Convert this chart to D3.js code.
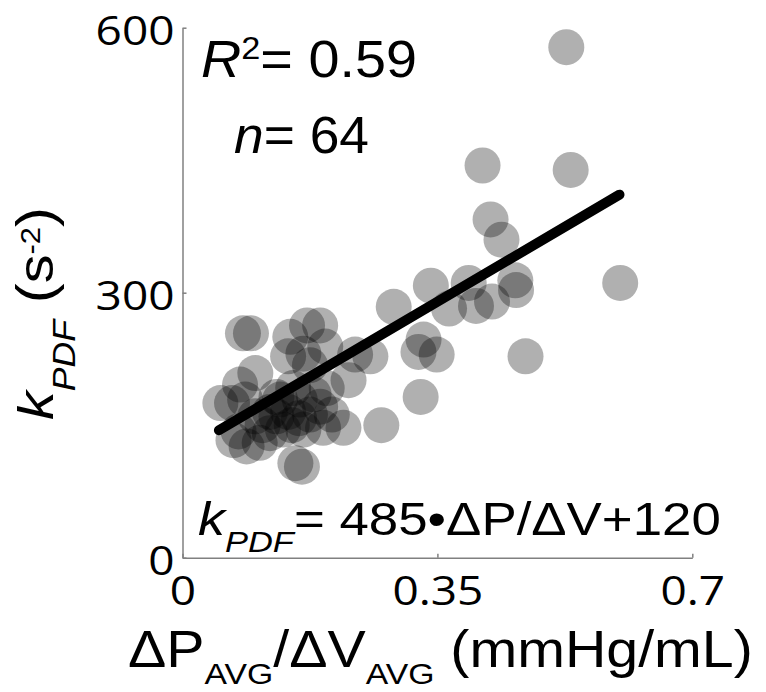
<!DOCTYPE html>
<html>
<head>
<meta charset="utf-8">
<script src="https://cdn.jsdelivr.net/npm/d3@7"></script>
<style>
  html, body { margin: 0; padding: 0; background: #fff; }
  svg { display: block; }
</style>
</head>
<body>
<svg id="chart" width="766" height="692"></svg>
<script>
// Pressure/volume slope versus k_PDF, one circle per subject
const slopeValues = [
  0.527, 0.412, 0.533, 0.423, 0.438, 0.601, 0.457, 0.458, 0.425, 0.403,
  0.393, 0.341, 0.366, 0.290, 0.331, 0.324, 0.349, 0.471, 0.327, 0.273,
  0.258,
  0.083, 0.094, 0.100, 0.079, 0.052, 0.068, 0.086, 0.077, 0.070, 0.088,
  0.106, 0.120, 0.129,
  0.189, 0.171, 0.148, 0.196, 0.166, 0.145, 0.237, 0.175, 0.228, 0.152,
  0.198, 0.134, 0.161, 0.189, 0.221, 0.193, 0.166, 0.138, 0.129, 0.155,
  0.164,
  0.145, 0.160, 0.175, 0.150, 0.110, 0.120, 0.205, 0.100, 0.180
];
const kpdfValues = [
  578, 444, 439, 383, 360, 311, 314, 303, 290, 285,
  311, 308, 282, 284, 247, 233, 230, 228, 182, 150,
  228,
  254, 254, 209, 196, 175, 175, 179, 143, 133, 126,
  130, 141, 182,
  263, 263, 250, 239, 231, 228, 230, 218, 201, 192,
  192, 179, 179, 171, 147, 147, 145, 145, 160, 107,
  103,
  165, 158, 162, 150, 150, 165, 162, 160, 185
];

const xTicks = [0, 0.35, 0.7];
const xTickLabels = ["0", "0.35", "0.7"];
const yTicks = [0, 300, 600];
const yTickLabels = ["0", "300", "600"];

// Least-squares fit as printed on the chart
const fitSlope = 485;
const fitIntercept = 120;
const fitExtent = [0.05, 0.6];
const rSquaredText = "0.59";
const nText = "64";

const svg = d3.select("#chart");
const x = d3.scaleLinear().domain([0, 0.7]).range([182.5, 692.3]);
const y = d3.scaleLinear().domain([0, 600]).range([557.7, 27.7]);

const points = slopeValues.map((v, i) => ({ x: v, y: kpdfValues[i] }));

// Scatter
svg.append("g")
  .selectAll("circle")
  .data(points)
  .join("circle")
  .attr("cx", d => x(d.x))
  .attr("cy", d => y(d.y))
  .attr("r", 18)
  .attr("fill", "#000")
  .attr("fill-opacity", 0.31);

// Regression line
const fitLine = fitExtent.map(v => ({ x: v, y: fitSlope * v + fitIntercept }));
svg.append("path")
  .datum(fitLine)
  .attr("d", d3.line().x(d => x(d.x)).y(d => y(d.y)))
  .attr("stroke", "#000")
  .attr("stroke-width", 10)
  .attr("stroke-linecap", "round")
  .attr("fill", "none");

// Axes
const axisColor = "#808080";
const tickFont = "'Open Sans', sans-serif";
const tickScaleX = 1.15;

const yAxis = svg.append("g")
  .attr("transform", `translate(${x(0)},0)`)
  .call(d3.axisLeft(y).tickValues(yTicks)
    .tickFormat((d, i) => yTickLabels[i])
    .tickSizeInner(-4).tickSizeOuter(0));

const xAxis = svg.append("g")
  .attr("transform", `translate(0,${y(0)})`)
  .call(d3.axisBottom(x).tickValues(xTicks)
    .tickFormat((d, i) => xTickLabels[i])
    .tickSizeInner(-4).tickSizeOuter(0));

[xAxis, yAxis].forEach(g => {
  g.select(".domain").attr("stroke", axisColor).attr("stroke-width", 1.5);
  g.selectAll(".tick line").attr("stroke", axisColor).attr("stroke-width", 1.5);
  g.selectAll(".tick text")
    .attr("fill", "#000")
    .attr("font-family", tickFont)
    .attr("font-size", 40);
});

yAxis.selectAll(".tick text")
  .attr("x", 0).attr("dy", null).attr("y", 0)
  .attr("text-anchor", "end")
  .attr("transform", `translate(-8,17) scale(${tickScaleX},1)`);

xAxis.selectAll(".tick text")
  .attr("y", 0).attr("dy", null)
  .attr("text-anchor", "middle")
  .attr("transform", `translate(0,47) scale(${tickScaleX},1)`);

// Text helpers: build a run of styled spans, then stretch it to a given span
function textRun(parent, runs, fontSize) {
  const t = parent.append("text")
    .attr("font-family", "'Liberation Sans', Arial, sans-serif")
    .attr("font-size", fontSize)
    .attr("fill", "#000")
    .attr("x", 0).attr("y", 0);
  runs.forEach(r => {
    const s = t.append("tspan").text(r.text);
    if (r.size) s.attr("font-size", r.size);
    if (r.italic) s.attr("font-style", "italic");
    if (r.dy) s.attr("dy", r.dy);
  });
  return t;
}

function placeHorizontal(runs, fontSize, x0, x1, baseline) {
  const g = svg.append("g");
  const t = textRun(g, runs, fontSize);
  const bb = t.node().getBBox();
  const sx = (x1 - x0) / bb.width;
  g.attr("transform", `translate(${x0},${baseline}) scale(${sx},1) translate(${-bb.x},0)`);
  return g;
}

// Annotations
placeHorizontal([
  { text: "R", italic: true },
  { text: "2", size: 32, dy: -18 },
  { text: "= " + rSquaredText, dy: 18 }
], 52, 201, 417, 77);

placeHorizontal([
  { text: "n", italic: true },
  { text: "= " + nText }
], 52, 234, 369, 153);

placeHorizontal([
  { text: "k", italic: true, size: 47 },
  { text: "PDF", italic: true, size: 30, dy: 17 },
  { text: "= 485\u2022\u0394P/\u0394V+120", dy: -17 }
], 46, 198, 721, 535);

// X axis title
placeHorizontal([
  { text: "\u0394P" },
  { text: "AVG", size: 30, dy: 17 },
  { text: "/\u0394V", dy: -17 },
  { text: "AVG", size: 30, dy: 17 },
  { text: " (mmHg/mL)", dy: -17 }
], 51, 128, 753, 667);

// Y axis title (rotated, reads bottom to top)
(function () {
  const g = svg.append("g");
  const t = textRun(g, [
    { text: "k", italic: true },
    { text: "PDF", italic: true, size: 31, dy: 22 },
    { text: " (", dy: -22, size: 52 },
    { text: "s", size: 50 },
    { text: "-2", size: 27, dy: -13 },
    { text: ")", size: 52, dy: 13 }
  ], 50);
  const bb = t.node().getBBox();
  const sx = 213 / bb.width;
  g.attr("transform", `translate(53,420) rotate(-90) scale(${sx},1) translate(${-bb.x},0)`);
})();
</script>
</body>
</html>
